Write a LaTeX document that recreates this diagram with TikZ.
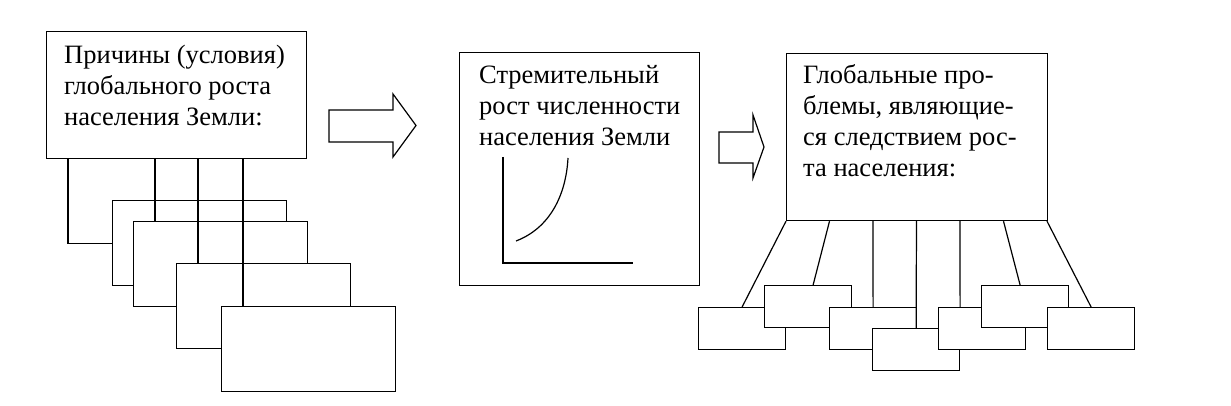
\documentclass[tikz,border=0pt]{standalone}
\usepackage{fontspec}
\setmainfont{Liberation Serif}
\usepackage{tikz}
\usetikzlibrary{calc}
\tikzset{
  mainbox/.style={rectangle, draw=black, fill=white, line width=1.2pt, inner sep=0pt, anchor=north west},
  stackbox/.style={mainbox, minimum width=174pt, minimum height=85pt},
  smallbox/.style={mainbox, minimum width=87pt, minimum height=42pt},
  caption/.style={anchor=base west, align=left, inner sep=0pt, font=\fontsize{26.5}{31}\selectfont},
  link/.style={line width=1.2pt},
  blockarrow/.style={draw=black, fill=white, line width=1.2pt, line join=miter}
}

\begin{document}
\begin{tikzpicture}[x=1pt, y=-1pt]
\useasboundingbox (0,0) rectangle (1231,406);

% Left: causes of growth
\node[mainbox, minimum width=260pt, minimum height=127pt] (cause) at (46,31) {};
\node[caption] (causetext) at (64,126) {Причины (условия)\\глобального роста\\населения Земли:};
\node[stackbox] (c1) at (112,200) {};
\node[stackbox] (c2) at (133,221) {};
\node[stackbox] (c3) at (176,263) {};
\node[stackbox] (c4) at (221,306) {};
\draw[link] ($(cause.south west)+(22,0)$) |- (c1.west);
\foreach \b in {c2,c3,c4}{
  \coordinate (top) at ($(\b.north west)+(22,0)$);
  \draw[link] (top) -- (top |- cause.south);
}

% Arrow 1
\draw[blockarrow] (329,110) -- (393,110) -- (393,94) -- (416,125.5) -- (393,157) -- (393,142) -- (329,142) -- cycle;

% Middle: rapid growth
\node[mainbox, minimum width=240pt, minimum height=233pt] (growth) at (459,52) {};
\node[caption] (growthtext) at (479,146) {Стремительный\\рост численности\\населения Земли};
\draw[link] (503,157) |- (633,263);
\draw[link] (516,241) .. controls (550,228) and (566,195) .. (568,158);

% Arrow 2
\draw[blockarrow] (719,132) -- (753,132) -- (753,115) -- (764,147) -- (753,178) -- (753,163) -- (719,163) -- cycle;

% Right: global problems
\node[mainbox, minimum width=261pt, minimum height=167pt] (problems) at (786,53) {};
\node[caption] (problemstext) at (803,177) {Глобальные про-\\блемы, являющие-\\ся следствием рос-\\та населения:};
\node[smallbox] (pa) at (698,307) {};
\node[smallbox] (pb) at (764,285) {};
\node[smallbox] (pc) at (829,307) {};
\node[smallbox] (pd) at (872,328) {};
\node[smallbox] (pe) at (938,307) {};
\node[smallbox] (pf) at (981,285) {};
\node[smallbox] (pg) at (1047,307) {};
\foreach \k/\b/\dx in {0/pa/0, 1/pb/5, 2/pc/0, 3/pd/0, 4/pe/-22, 5/pf/-5, 6/pg/0}
  \draw[link] ($(problems.south west)+(\k*43.5,0)$) -- ($(\b.north)+(\dx,0)$);
\end{tikzpicture}
\end{document}
